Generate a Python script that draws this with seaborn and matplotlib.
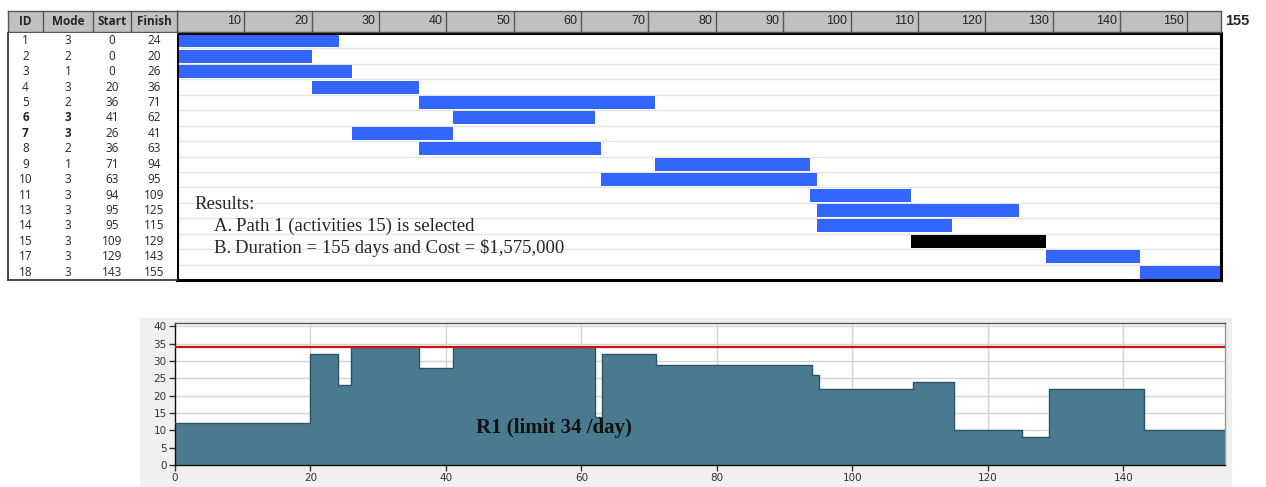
import numpy as np
import pandas as pd
import matplotlib
matplotlib.use("Agg")
import matplotlib.pyplot as plt
import seaborn as sns
from matplotlib.patches import Rectangle

# Activity schedule
ids = [1, 2, 3, 4, 5, 6, 7, 8, 9, 10, 11, 13, 14, 15, 17, 18]
modes = [3, 2, 1, 3, 2, 3, 3, 2, 1, 3, 3, 3, 3, 3, 3, 3]
starts = [0, 0, 0, 20, 36, 41, 26, 36, 71, 63, 94, 95, 95, 109, 129, 143]
finishes = [24, 20, 26, 36, 71, 62, 41, 63, 94, 95, 109, 125, 115, 129, 143, 155]
critical_ids = [15]
bold_ids = [6, 7]
table_headers = ["ID", "Mode", "Start", "Finish"]
header_ticks = list(range(10, 151, 10))
project_end = 155

# Resource R1 usage profile (step changes)
profile_t = [0, 20, 24, 26, 36, 41, 62, 63, 71, 94, 95, 109, 115, 125, 129, 143, 155]
profile_r = [12, 32, 23, 34, 28, 34, 14, 32, 29, 26, 22, 24, 10, 8, 22, 10]
limit = 34
x_ticks = list(range(0, 141, 20))
y_ticks = list(range(0, 41, 5))

result_lines = [
    "Results:",
    "A.\u2009Path 1 (activities 15) is selected",
    "B.\u2009Duration = 155 days and Cost = $1,575,000",
]

sns.set_theme(style="white")
plt.rcParams["font.family"] = ["DejaVu Sans"]

W, H = 1266, 487
fig = plt.figure(figsize=(W / 100, H / 100), dpi=100)
fig.patch.set_facecolor("white")


def box(x0, y0, x1, y1):
    return [x0 / W, 1 - y1 / H, (x1 - x0) / W, (y1 - y0) / H]


# light panel behind the resource chart
fig.add_artist(Rectangle((140 / W, 0), 1092 / W, 169 / H, transform=fig.transFigure,
                         facecolor="#f0f0f0", edgecolor="none", zorder=-5))

df = pd.DataFrame({"id": ids, "mode": modes, "start": starts, "finish": finishes})
df["dur"] = df["finish"] - df["start"]
df["row"] = np.arange(len(df))
nrows = len(df)

# ---------- Gantt bars ----------
ax_g = fig.add_axes(box(177, 33, 1221, 280))
for k in range(nrows - 1):
    ax_g.axhline(k + 0.5, color="#e4e4e4", lw=1, zorder=0)
colors = ["#000000" if i in critical_ids else "#3366ff" for i in df["id"]]
ax_g.barh(df["row"], df["dur"], left=df["start"], height=0.84, color=colors,
          edgecolor="none", zorder=2)
ax_g.set_xlim(0, project_end)
ax_g.set_ylim(nrows - 0.5, -0.5)
ax_g.set_xticks([])
ax_g.set_yticks([])
for s in ax_g.spines.values():
    s.set_color("black")
    s.set_linewidth(2.2)
ax_g.text(2.6, 10.6, result_lines[0], family="Liberation Serif", fontsize=13.5,
          va="center", ha="left", zorder=3)
ax_g.text(5.5, 12.0, result_lines[1], family="Liberation Serif", fontsize=13.5,
          va="center", ha="left", zorder=3)
ax_g.text(5.5, 13.4, result_lines[2], family="Liberation Serif", fontsize=13.5,
          va="center", ha="left", zorder=3)

# ---------- time header ----------
ax_h = fig.add_axes(box(177, 11, 1221, 32))
ax_h.set_facecolor("#c0c0c0")
ax_h.set_xlim(0, project_end)
ax_h.set_ylim(0, 1)
for t in header_ticks:
    ax_h.axvline(t, color="#555555", lw=1)
    ax_h.text(t - 0.5, 0.5, str(t), ha="right", va="center", fontsize=9,
              family="Liberation Sans", color="#222222")
ax_h.set_xticks([])
ax_h.set_yticks([])
for s in ax_h.spines.values():
    s.set_color("#555555")
    s.set_linewidth(1)
fig.text(1225 / W, 1 - 21 / H, str(project_end), ha="left", va="center",
         fontsize=10.5, fontweight="bold", family="Liberation Sans")

# ---------- table ----------
col_edges = [0, 35, 85, 123, 169]
col_mid = [(a + b) / 2 for a, b in zip(col_edges[:-1], col_edges[1:])]

ax_th = fig.add_axes(box(8, 11, 177, 32))
ax_th.set_facecolor("#c0c0c0")
ax_th.set_xlim(0, 169)
ax_th.set_ylim(0, 1)
for e in col_edges[1:-1]:
    ax_th.axvline(e, color="#555555", lw=1)
for m, h in zip(col_mid, table_headers):
    ax_th.text(m, 0.5, h, ha="center", va="center", fontsize=8.5, fontweight="bold",
               family="Open Sans")
ax_th.set_xticks([])
ax_th.set_yticks([])
for s in ax_th.spines.values():
    s.set_color("#555555")
    s.set_linewidth(1)

ax_tb = fig.add_axes(box(8, 33, 177, 280))
ax_tb.set_xlim(0, 169)
ax_tb.set_ylim(nrows - 0.5, -0.5)
for _, r in df.iterrows():
    bold = "bold" if r["id"] in bold_ids else "normal"
    vals = [r["id"], r["mode"], r["start"], r["finish"]]
    for c, (m, v) in enumerate(zip(col_mid, vals)):
        ax_tb.text(m, r["row"], str(int(v)), ha="center", va="center", fontsize=8.5,
                   family="Open Sans", fontweight=bold if c < 2 else "normal")
ax_tb.set_xticks([])
ax_tb.set_yticks([])
ax_tb.spines["top"].set_visible(False)
ax_tb.spines["right"].set_visible(False)
ax_tb.spines["left"].set_color("#333333")
ax_tb.spines["bottom"].set_color("#333333")

# ---------- resource profile ----------
ax_r = fig.add_axes(box(175, 323, 1225, 465))
ax_r.set_facecolor("white")
steps_r = profile_r + [profile_r[-1]]
for t in x_ticks[1:]:
    ax_r.axvline(t, color="#d4d4d4", lw=1, zorder=0)
for v in y_ticks[1:]:
    ax_r.axhline(v, color="#d4d4d4", lw=1, zorder=0)
ax_r.fill_between(profile_t, steps_r, step="post", color="#4a7a90", lw=0, zorder=2)
sns.lineplot(x=profile_t, y=steps_r, drawstyle="steps-post", color="#2d5264",
             lw=1, ax=ax_r, zorder=3, estimator=None, sort=False)
sns.lineplot(x=[0, project_end], y=[limit, limit], color="#cc1111", lw=1.6,
             ax=ax_r, zorder=4, estimator=None)
ax_r.text(56, 10.6, "R1 (limit 34 /day)", family="Liberation Serif", fontsize=15,
          fontweight="bold", ha="center", va="center", color="#111111", zorder=5)
ax_r.set_xlim(0, project_end)
ax_r.set_ylim(0, 41)
ax_r.set_xticks(x_ticks)
ax_r.set_yticks(y_ticks)
ax_r.tick_params(axis="both", which="both", labelsize=7.5, length=4, width=1,
                 colors="#333333", direction="out", bottom=True, left=True, pad=2)
ax_r.spines["left"].set_color("#111111")
ax_r.spines["bottom"].set_color("#111111")
ax_r.spines["top"].set_color("#555555")
ax_r.spines["right"].set_color("#999999")
for s in ax_r.spines.values():
    s.set_linewidth(1)

fig.savefig("out.png", dpi=100)
